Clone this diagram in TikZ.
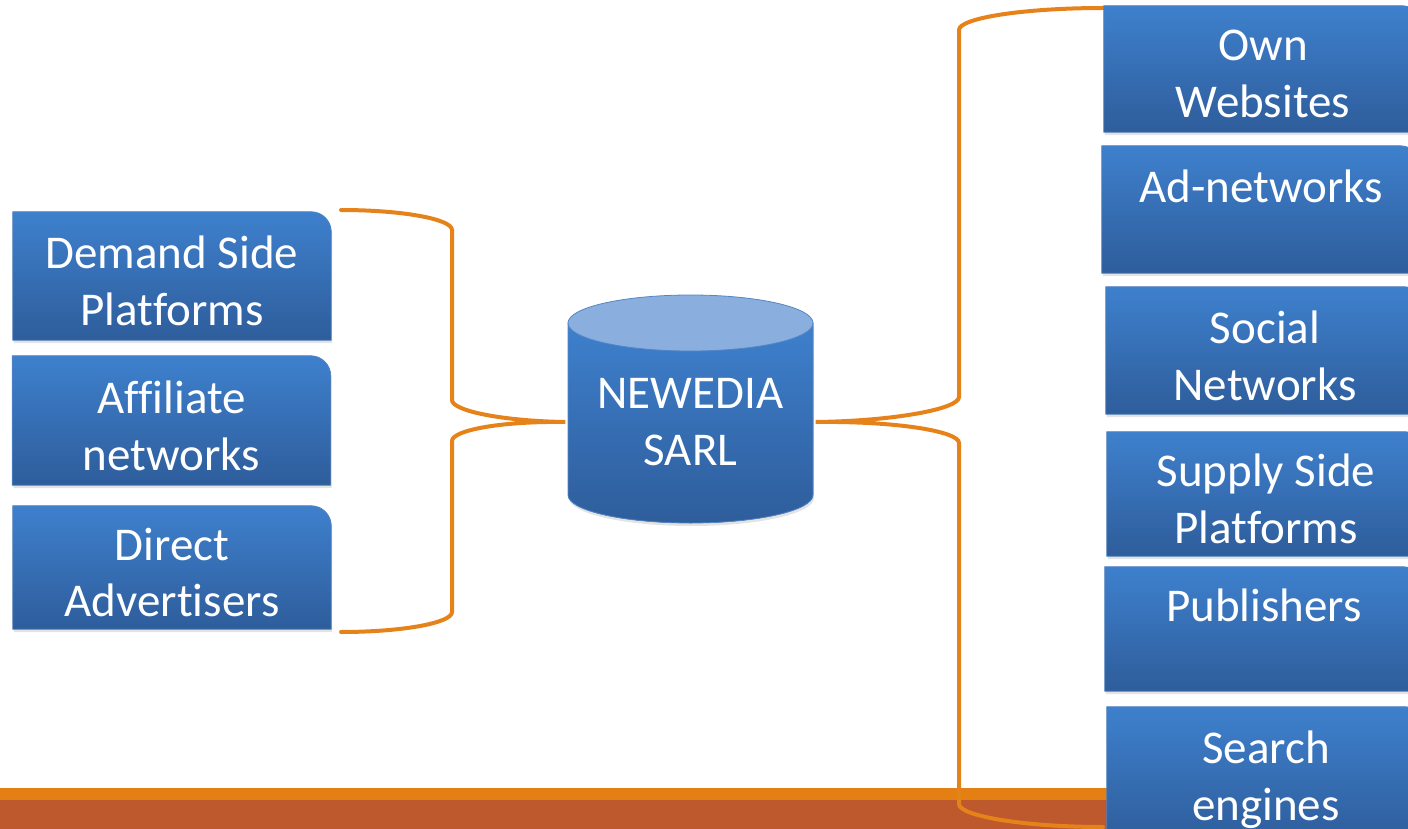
\documentclass[tikz,border=0pt]{standalone}
\usepackage{fontspec}
\setmainfont{Carlito}[Ligatures=NoCommon]
\usetikzlibrary{shadows}
\pgfdeclarelayer{background}
\pgfsetlayers{background,main}
\definecolor{btop}{RGB}{62,128,205}
\definecolor{bbot}{RGB}{46,93,155}
\definecolor{bedge}{RGB}{84,134,198}
\definecolor{ctop}{RGB}{138,175,222}
\definecolor{bracecol}{RGB}{230,130,26}
\definecolor{barO}{RGB}{228,128,19}
\definecolor{barB}{RGB}{190,88,45}
\tikzset{
  box/.style={inner sep=0pt, minimum width=318pt, text=white, align=center,
    font=\fontsize{47}{57}\selectfont},
  tshift/.style={yshift=-5pt},
  boxfill/.style={top color=btop, bottom color=bbot, draw=bedge, line width=0.8pt,
    drop shadow={opacity=0.22, shadow xshift=1pt, shadow yshift=-3pt}},
  bracestyle/.style={draw=bracecol, line width=4pt, line cap=round}
}
\begin{document}
\begin{tikzpicture}[x=1pt,y=-1pt]
\useasboundingbox (0,0) rectangle (1408,829);
% left boxes (text sits 5pt below the box centre)
\node[box, tshift, minimum height=128pt] (dsp) at (172,276) {Demand Side\\Platforms};
\node[box, tshift, minimum height=129pt] (aff) at (171.5,420.5) {Affiliate\\networks};
\node[box, tshift, minimum height=123pt] (dir) at (172,567.5) {Direct\\Advertisers};
% right boxes
\node[box, tshift, minimum height=126pt] (own) at (1263,69) {Own\\Websites};
\node[box, tshift, minimum height=127pt] (adn) at (1261,209.5) {Ad-networks\\\mbox{}};
\node[box, tshift, minimum height=127pt] (soc) at (1265,350.5) {Social\\Networks};
\node[box, tshift, minimum height=124pt] (ssp) at (1266,494) {Supply Side\\Platforms};
\node[box, tshift, minimum height=124pt] (pub) at (1264,629) {Publishers\\\mbox{}};
\node[box, tshift, minimum height=136pt] (sea) at (1266,775) {Search\\engines};
% centre
\node[box, minimum width=250pt] (cyl) at (690.5,422) {NEWEDIA\\SARL};
\begin{pgfonlayer}{background}
  % bottom bar
  \fill[barO] (0,788) rectangle (1408,800);
  \fill[barB] (0,800) rectangle (1408,829);
  % left brace
  \draw[bracestyle] (341,210) .. controls (402,210) and (452,219) .. (452,230)
     -- (452,400) .. controls (452,411) and (503,421) .. (cyl.west)
     .. controls (503,421) and (452,430) .. (452,441)
     -- (452,612) .. controls (452,623) and (402,632) .. (341,632);
  % right brace
  \draw[bracestyle] (1103,8) .. controls (1024,8) and (959,18) .. (959,30)
     -- (959,397) .. controls (959,409) and (894,421) .. (cyl.east)
     .. controls (894,421) and (959,431) .. (959,443)
     -- (959,804) .. controls (959,816) and (1024,827) .. (1103,827);
  % cylinder
  \fill[boxfill] (568,323) -- (568,495)
     arc[start angle=180, end angle=0, x radius=122.5, y radius=28]
     -- (813,323) -- cycle;
  \fill[ctop, draw=bedge, line width=0.8pt] (690.5,323) ellipse[x radius=122.5, y radius=28];
  % boxes
  \foreach \n in {dsp,aff,dir,own,adn,soc,ssp,pub,sea}{
    \fill[boxfill] ([yshift=5pt]\n.south west) -- ([yshift=5pt]\n.north west)
      -- ([shift={(-20pt,5pt)}]\n.north east)
      .. controls ([shift={(-9pt,5pt)}]\n.north east) and ([yshift=-4pt]\n.north east)
      .. ([yshift=-15pt]\n.north east) -- ([yshift=5pt]\n.south east) -- cycle;
  }
\end{pgfonlayer}
\end{tikzpicture}
\end{document}
